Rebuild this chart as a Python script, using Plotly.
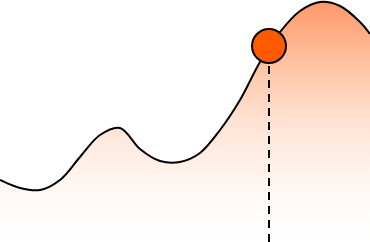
import plotly.graph_objects as go

# curve values at even x steps
xs = [0, 20, 40, 60, 80, 100, 120, 140, 160, 180, 200, 220, 240, 260, 280, 300, 320, 340, 360, 370]
ys = [62, 54, 52, 62, 85, 107, 114, 93, 81, 80, 89, 112, 142, 180, 210, 231, 240, 236, 220, 208]
mark_x = [269]
mark_y = [196]

fig = go.Figure()
fig.add_trace(go.Scatter(
    x=xs, y=ys, mode="lines", line=dict(color="black", width=2, shape="spline", smoothing=1.0),
    fill="tozeroy",
    fillgradient=dict(type="vertical", start=0, stop=242,
                      colorscale=[[0, "rgb(255,255,255)"], [0.1, "rgb(255,253,252)"],
                                  [0.25, "rgb(255,246,241)"], [0.5, "rgb(255,226,211)"],
                                  [0.75, "rgb(255,192,160)"], [1, "rgb(255,150,105)"]]),
    hoverinfo="skip", showlegend=False))
fig.add_trace(go.Scatter(
    x=[mark_x[0], mark_x[0]], y=[0, mark_y[0]], mode="lines",
    line=dict(color="black", width=2, dash="8px,6px"), hoverinfo="skip", showlegend=False))
fig.add_trace(go.Scatter(
    x=mark_x, y=mark_y, mode="markers",
    marker=dict(size=34, color="#ff5a00", line=dict(color="black", width=2)),
    hoverinfo="skip", showlegend=False))
fig.update_layout(
    width=370, height=242, margin=dict(l=0, r=0, t=0, b=0),
    paper_bgcolor="white", plot_bgcolor="white",
    xaxis=dict(range=[0, 370], visible=False, fixedrange=True),
    yaxis=dict(range=[0, 242], visible=False, fixedrange=True),
)
fig.write_html("out.html", config={"displayModeBar": False})
